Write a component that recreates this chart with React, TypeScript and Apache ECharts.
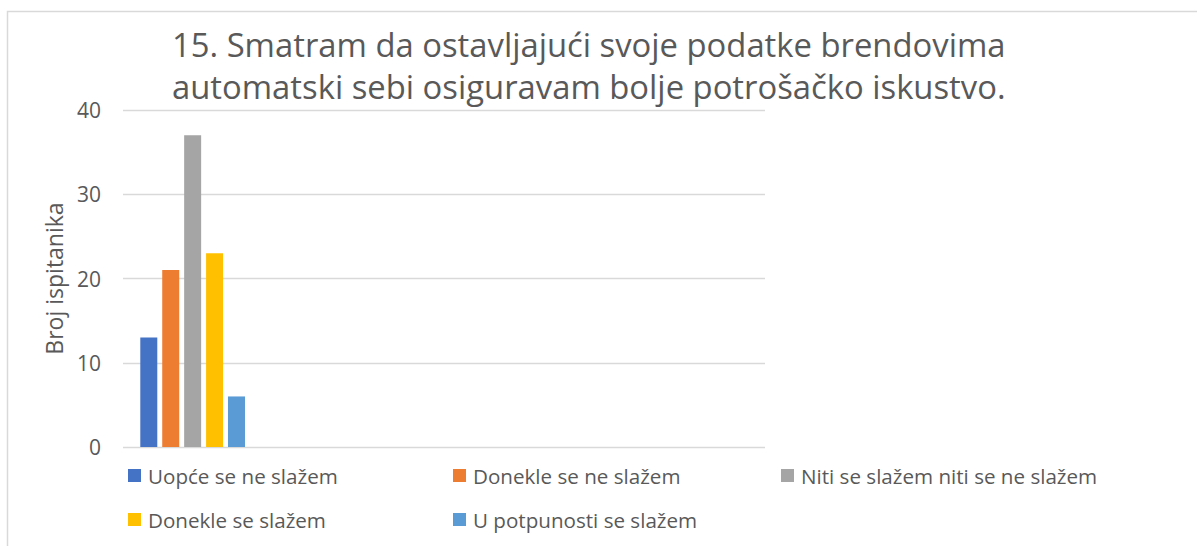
import React, { useEffect, useRef } from 'react';
import * as echarts from 'echarts';

const titleText = '15. Smatram da ostavljajući svoje podatke brendovima\nautomatski sebi osiguravam bolje potrošačko iskustvo.';
const categories = ['15.'];
const seriesNames = [
  'Uopće se ne slažem',
  'Donekle se ne slažem',
  'Niti se slažem niti se ne slažem',
  'Donekle se slažem',
  'U potpunosti se slažem',
];
const seriesValues = [13, 21, 37, 23, 6];
const seriesColors = ['#4472C4', '#ED7D31', '#A5A5A5', '#FFC000', '#5B9BD5'];
const yMin = 0;
const yMax = 40;
const yInterval = 10;
const yAxisName = 'Broj ispitanika';

const FONT = '"Open Sans", Lato, sans-serif';
const TEXT_COLOR = '#595959';
const legendPos: [number, number][] = [
  [128, 465],
  [453, 465],
  [781, 465],
  [128, 509],
  [453, 509],
];

export default function App() {
  const ref = useRef<HTMLDivElement>(null);
  useEffect(() => {
    if (!ref.current) return;
    const chart = echarts.init(ref.current, null, { renderer: 'svg' });
    const gridTop = 110;
    const gridBottom = 99;
    const option: any = {
      animation: false,
      backgroundColor: '#ffffff',
      textStyle: { fontFamily: FONT },
      title: {
        text: titleText,
        left: 172,
        top: 23,
        padding: 0,
        textStyle: {
          fontFamily: FONT,
          fontSize: 32.8,
          fontWeight: 'normal',
          color: TEXT_COLOR,
          lineHeight: 42,
        },
      },
      graphic: [
        {
          type: 'rect',
          shape: { x: 7.5, y: 11.5, width: 1300, height: 700 },
          style: { fill: 'none', stroke: '#d9d9d9', lineWidth: 1.5 },
          silent: true,
          z: -1,
        },
      ],
      legend: seriesNames.map((name, i) => ({
        data: [name],
        left: legendPos[i][0],
        top: legendPos[i][1],
        padding: 0,
        icon: 'rect',
        itemWidth: 13,
        itemHeight: 13,
        selectedMode: false,
        textStyle: {
          fontFamily: FONT,
          fontSize: 20.6,
          color: TEXT_COLOR,
          padding: [0, 0, 0, 2],
        },
      })),
      grid: [
        { left: 123, right: 432, top: gridTop, bottom: gridBottom },
        { left: 123, width: 139.3, top: gridTop, bottom: gridBottom },
      ],
      xAxis: [
        {
          gridIndex: 0,
          type: 'category',
          data: categories,
          show: false,
        },
        {
          gridIndex: 1,
          type: 'category',
          data: categories,
          show: false,
        },
      ],
      yAxis: [
        {
          gridIndex: 0,
          type: 'value',
          min: yMin,
          max: yMax,
          interval: yInterval,
          name: yAxisName,
          nameLocation: 'middle',
          nameGap: 58,
          nameTextStyle: { fontFamily: FONT, fontSize: 23, color: TEXT_COLOR },
          axisLine: { show: false },
          axisTick: { show: false },
          axisLabel: { fontFamily: FONT, fontSize: 21, color: TEXT_COLOR, margin: 22 },
          splitLine: { lineStyle: { color: '#d9d9d9', width: 1.3 } },
        },
        {
          gridIndex: 1,
          type: 'value',
          min: yMin,
          max: yMax,
          interval: yInterval,
          show: false,
          splitLine: { show: false },
        },
      ],
      series: seriesNames.map((name, i) => ({
        name,
        type: 'bar',
        xAxisIndex: 1,
        yAxisIndex: 1,
        data: [seriesValues[i]],
        barWidth: 17,
        barGap: '29%',
        itemStyle: { color: seriesColors[i] },
      })),
    };
    chart.setOption(option);
    return () => chart.dispose();
  }, []);
  return (
    <div
      ref={ref}
      style={{ position: 'fixed', left: 0, top: 0, width: 1197, height: 546, background: '#fff' }}
    />
  );
}
